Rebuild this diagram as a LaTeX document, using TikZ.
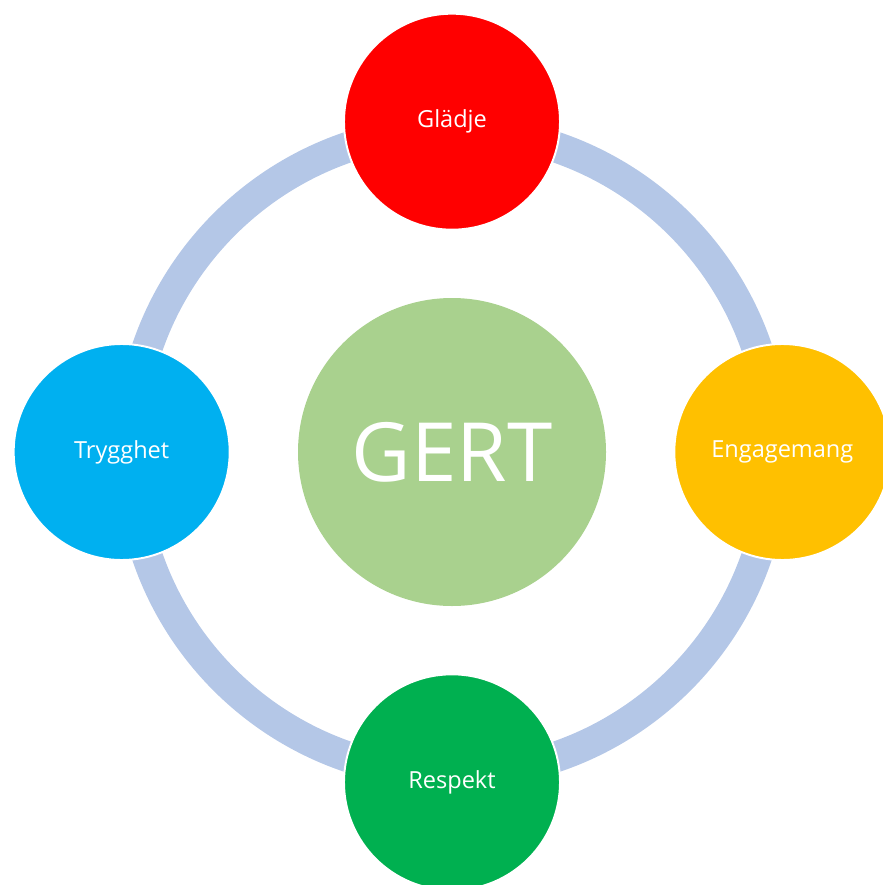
\documentclass[tikz,border=0pt]{standalone}
\usepackage{fontspec}
\setmainfont{Open Sans}
\usetikzlibrary{
  shapes,
  positioning
}
\definecolor{ringblue}{HTML}{B4C7E7}
\definecolor{gertgreen}{HTML}{A9D18E}
\definecolor{gladjered}{HTML}{FF0000}
\definecolor{engagemangorange}{HTML}{FFC000}
\definecolor{trygghetblue}{HTML}{00B0F0}
\definecolor{respektgreen}{HTML}{00B050}

\begin{document}
\begin{tikzpicture}[node distance = 1.34cm,
    value/.style = {circle, draw=white, line width=1.1pt, inner sep=0pt,
                    minimum size=4.32cm, text=white,
                    font=\fontsize{13.4}{16}\selectfont}]
    \useasboundingbox (0,0) rectangle (17.64,-17.70);

    \node[circle, fill=gertgreen, inner sep=0pt, minimum size=6.16cm, text=white,
          font=\fontsize{46.5}{56}\selectfont] (gert) at (9.04,-9.04) {GERT};
    \draw[ringblue, line width=17.5pt] (gert.center) circle (6.44cm);

    \node[value, fill=gladjered, above = of gert] (gladje) {Glädje};
    \node[value, fill=engagemangorange, right = of gert] (engagemang) {Engagemang};
    \node[value, fill=respektgreen, below = of gert] (respekt) {Respekt};
    \node[value, fill=trygghetblue, left = of gert] (trygghet) {Trygghet};
\end{tikzpicture}
\end{document}
